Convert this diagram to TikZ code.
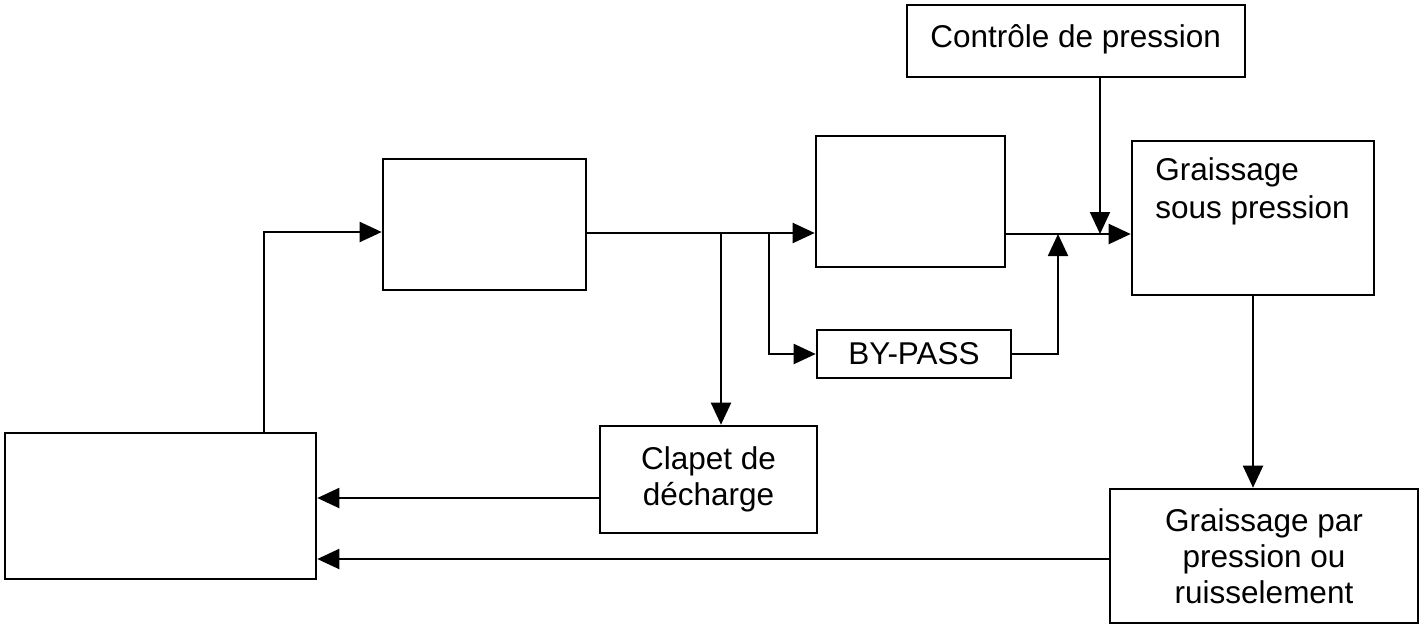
\documentclass[tikz,border=0pt]{standalone}
\usepackage{fontspec}
\setmainfont{Liberation Sans}
\usetikzlibrary{arrows.meta}

\begin{document}
\begin{tikzpicture}[x=0.5pt,y=-0.5pt,
  box/.style 2 args={draw,line width=1.3pt,minimum width=#1,minimum height=#2,
    inner sep=2pt,align=center,font=\fontsize{15.75}{18}\selectfont},
  txt/.style={inner sep=0pt,align=left,font=\fontsize{15.75}{19}\selectfont},
  flow/.style={line width=1pt,-{Triangle[length=11pt,width=10pt]}}]
  \useasboundingbox (0,0) rectangle (1422,627);
  % boxes
  \node[box={169pt}{36pt}] (ctl) at (1076,41) {};
  \node[txt,anchor=base west] (ctlText) at (930,47) {Contrôle de pression};
  \node[box={101.5pt}{65.5pt}] (pump) at (484.5,224.5) {};
  \node[box={94.5pt}{65.5pt}] (filter) at (910.5,201.5) {};
  \node[box={121pt}{77pt}] (gsp) at (1253,218) {};
  \node[txt,anchor=north west] (gspText) at (1155,157) {Graissage\\sous pression};
  \node[box={97pt}{24pt}] (bypass) at (914,354) {BY-PASS};
  \node[box={108.5pt}{53.5pt}] (clapet) at (708.5,479.5) {Clapet de\\décharge};
  \node[box={155.5pt}{73pt}] (carter) at (160.5,506) {};
  \node[box={154pt}{67pt}] (gpr) at (1264,556) {Graissage par\\pression ou\\ruisselement};
  % junctions
  \coordinate (rise) at (264,232);
  \coordinate (split1) at (721,233);
  \coordinate (split2) at (769,233);
  \coordinate (merge) at (1058,234);
  \coordinate (ctlIn) at (1100,234);
  \coordinate (relief) at (600,498);
  \coordinate (drain) at (1110,559);
  % circuit
  \draw[flow] (carter.north -| rise) -- (rise) -- (pump.west |- rise);
  \draw[flow] (pump.east |- split1) -- (filter.west |- split1);
  \draw[flow] (split1) -- (clapet.north -| split1);
  \draw[flow] (split2) |- (bypass.west);
  \draw[flow] (filter.east |- merge) -- (gsp.west |- merge);
  \draw[flow] (bypass.east) -| (merge);
  \draw[flow] (ctl.south -| ctlIn) -- (ctlIn);
  \draw[flow] (gsp.south) -- (gpr.north -| gsp.south);
  \draw[flow] (clapet.west |- relief) -- (carter.east |- relief);
  \draw[flow] (gpr.west |- drain) -- (carter.east |- drain);
\end{tikzpicture}
\end{document}
